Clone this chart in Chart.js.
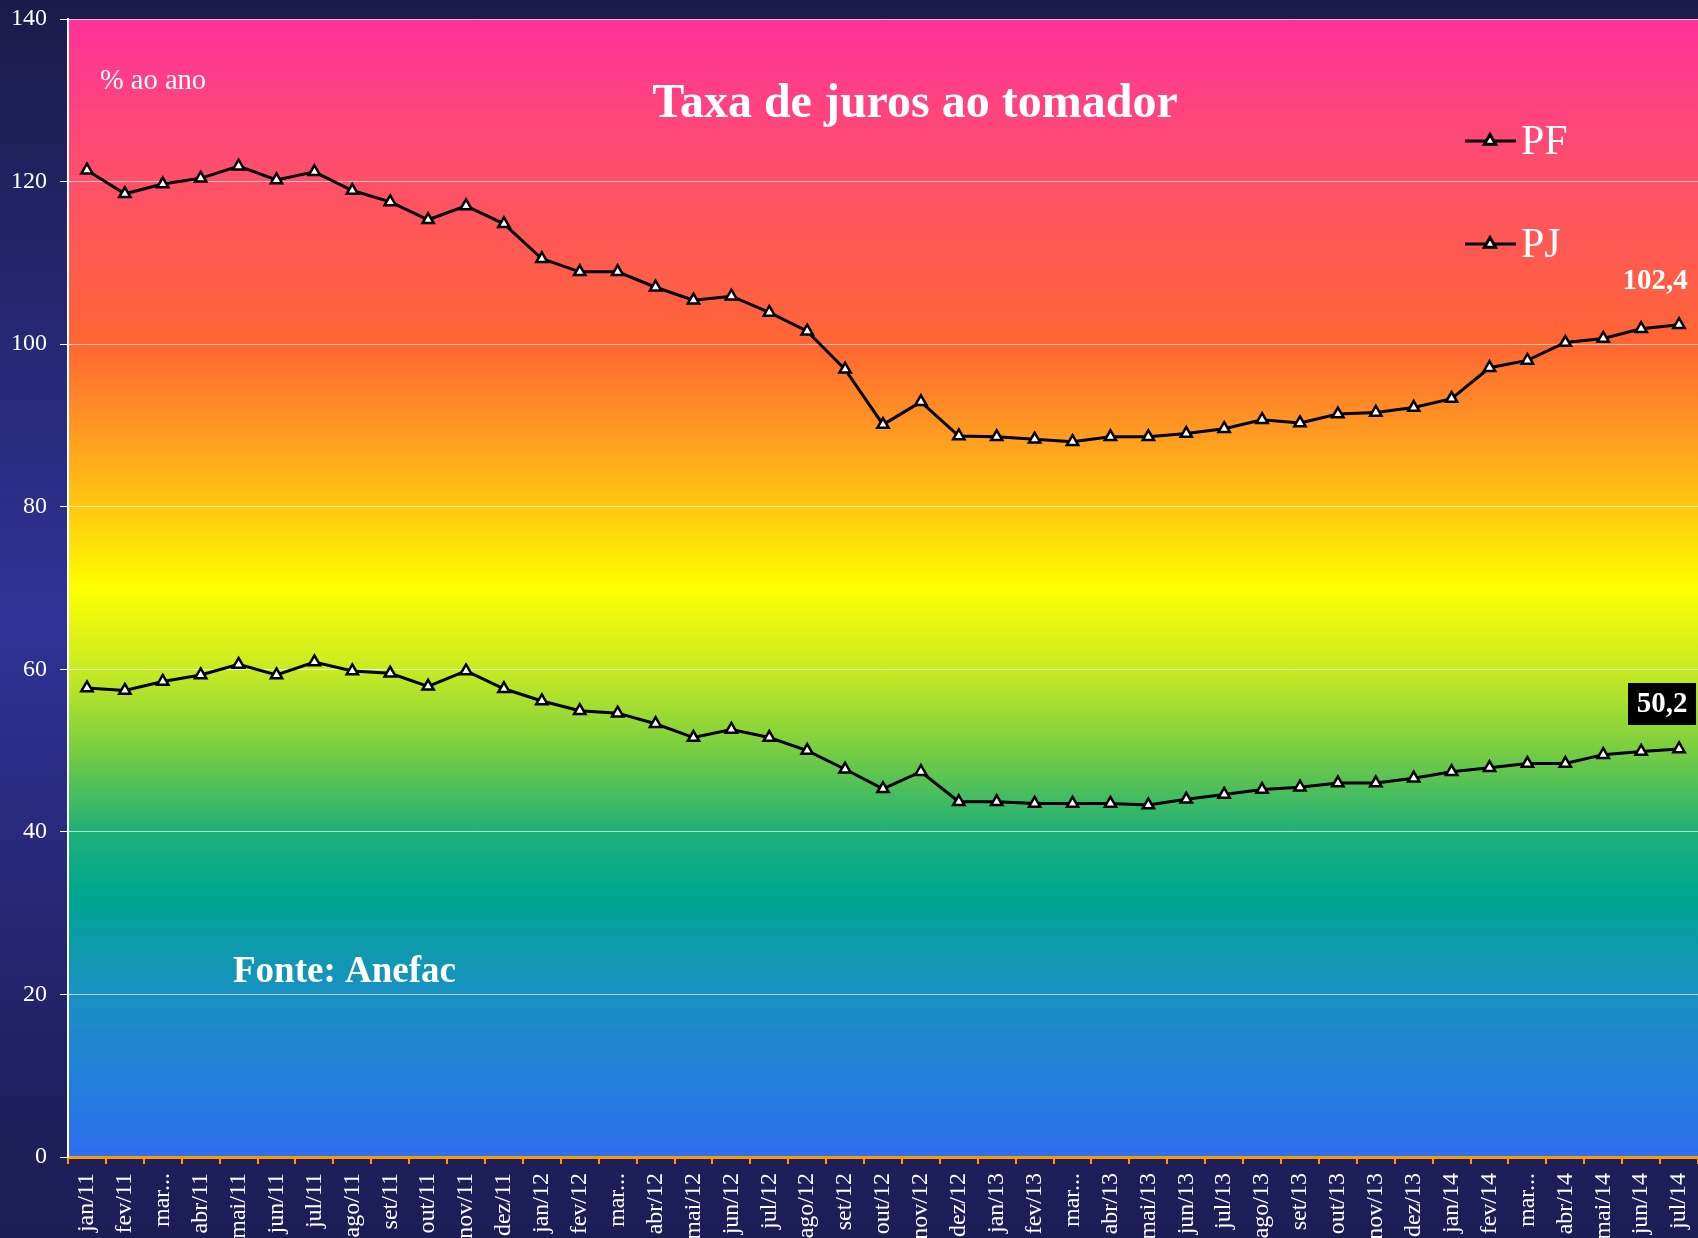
<!DOCTYPE html>
<html>
<head>
<meta charset="utf-8">
<script src="https://cdn.jsdelivr.net/npm/chart.js@4.4.1/dist/chart.umd.min.js"></script>
<style>
  html, body { margin: 0; padding: 0; background: #1c1c50; }
  canvas { display: block; }
</style>
</head>
<body>
<canvas id="chart" width="1698" height="1238"></canvas>
<script>
const months = [
  "jan/11", "fev/11", "mar...", "abr/11", "mai/11", "jun/11", "jul/11", "ago/11", "set/11", "out/11", "nov/11", "dez/11",
  "jan/12", "fev/12", "mar...", "abr/12", "mai/12", "jun/12", "jul/12", "ago/12", "set/12", "out/12", "nov/12", "dez/12",
  "jan/13", "fev/13", "mar...", "abr/13", "mai/13", "jun/13", "jul/13", "ago/13", "set/13", "out/13", "nov/13", "dez/13",
  "jan/14", "fev/14", "mar...", "abr/14", "mai/14", "jun/14", "jul/14"
];

const pf = [
  121.4, 118.5, 119.7, 120.4, 121.9, 120.2, 121.2, 118.9, 117.5, 115.3, 117.0, 114.8,
  110.5, 108.9, 108.9, 107.0, 105.4, 105.9, 103.9, 101.6, 96.9, 90.1, 92.9, 88.7,
  88.6, 88.3, 88.0, 88.6, 88.6, 89.0, 89.6, 90.7, 90.3, 91.4, 91.6, 92.2,
  93.3, 97.1, 98.0, 100.2, 100.7, 101.9, 102.4
];

const pj = [
  57.7, 57.4, 58.5, 59.3, 60.6, 59.3, 60.9, 59.8, 59.5, 57.9, 59.8, 57.6,
  56.1, 54.9, 54.6, 53.3, 51.6, 52.6, 51.6, 50.0, 47.7, 45.3, 47.4, 43.7,
  43.7, 43.5, 43.5, 43.5, 43.3, 44.0, 44.6, 45.2, 45.5, 46.0, 46.0, 46.6,
  47.4, 47.9, 48.4, 48.4, 49.5, 49.9, 50.2
];

const yTicks = [0, 20, 40, 60, 80, 100, 120, 140];

const serif = "'Liberation Serif', 'Times New Roman', serif";

// background colours of the plot, by axis value
const bandStops = [
  [140, "rgb(255,51,153)"],
  [120, "rgb(255,80,105)"],
  [100, "rgb(255,102,51)"],
  [90, "rgb(255,150,35)"],
  [80, "rgb(255,200,15)"],
  [70, "rgb(255,255,0)"],
  [60, "rgb(200,235,35)"],
  [50, "rgb(120,205,65)"],
  [40, "rgb(30,175,120)"],
  [32, "rgb(0,165,145)"],
  [20, "rgb(25,145,195)"],
  [0, "rgb(45,110,240)"]
];

const backgrounds = {
  id: "backgrounds",
  beforeDraw(chart) {
    const ctx = chart.ctx;
    const area = chart.chartArea;
    const y = chart.scales.y;
    ctx.save();
    const outer = ctx.createLinearGradient(0, 0, 0, chart.height);
    outer.addColorStop(0, "#1b1b4a");
    outer.addColorStop(0.5, "#2e3396");
    outer.addColorStop(0.9, "#1f1f5c");
    outer.addColorStop(1, "#1d1d56");
    ctx.fillStyle = outer;
    ctx.fillRect(0, 0, chart.width, chart.height);

    const grad = ctx.createLinearGradient(0, area.top, 0, area.bottom);
    bandStops.forEach(([v, c]) => {
      const f = (y.getPixelForValue(v) - area.top) / (area.bottom - area.top);
      grad.addColorStop(Math.min(1, Math.max(0, f)), c);
    });
    ctx.fillStyle = grad;
    ctx.fillRect(area.left, area.top, area.right - area.left, area.bottom - area.top);
    ctx.restore();
  }
};

const annotations = {
  id: "annotations",
  afterDatasetsDraw(chart) {
    const ctx = chart.ctx;
    ctx.save();
    ctx.fillStyle = "#ffffff";
    ctx.textBaseline = "middle";

    ctx.font = "bold 48px " + serif;
    ctx.textAlign = "center";
    ctx.fillText("Taxa de juros ao tomador", 915, 105);

    ctx.font = "28.5px " + serif;
    ctx.textAlign = "left";
    ctx.fillText("% ao ano", 100, 82);

    ctx.font = "bold 37px " + serif;
    ctx.fillText("Fonte: Anefac", 233, 972);

    // legend
    const legendY = [141, 244];
    chart.data.datasets.forEach((ds, i) => {
      const ly = legendY[i];
      ctx.strokeStyle = ds.borderColor;
      ctx.lineWidth = 3;
      ctx.beginPath();
      ctx.moveTo(1465, ly);
      ctx.lineTo(1516, ly);
      ctx.stroke();
      Chart.helpers.drawPoint(ctx, {
        pointStyle: "triangle",
        radius: 6.5,
        borderWidth: 2.5
      }, 1490, ly);
      ctx.fillStyle = "#ffffff";
      ctx.font = "42px " + serif;
      ctx.textAlign = "left";
      ctx.fillText(ds.label, 1521, ly + 2);
    });

    // value labels on the last points
    ctx.font = "bold 29px " + serif;
    ctx.textAlign = "center";
    ctx.fillStyle = "#ffffff";
    ctx.fillText(pf[pf.length - 1].toFixed(1).replace(".", ","), 1655, 282);

    const pjText = pj[pj.length - 1].toFixed(1).replace(".", ",");
    ctx.fillStyle = "#000000";
    ctx.fillRect(1628, 683, 68, 42);
    ctx.fillStyle = "#ffffff";
    ctx.fillText(pjText, 1662, 705);
    ctx.restore();
  }
};

const pointStyle = {
  borderColor: "#000000",
  borderWidth: 3,
  pointStyle: "triangle",
  pointRadius: 6.5,
  pointBorderWidth: 2.5,
  pointBackgroundColor: "#ffffff",
  pointBorderColor: "#000000",
  tension: 0,
  fill: false
};

new Chart(document.getElementById("chart").getContext("2d"), {
  type: "line",
  data: {
    labels: months,
    datasets: [
      Object.assign({ label: "PF", data: pf }, pointStyle),
      Object.assign({ label: "PJ", data: pj }, pointStyle)
    ]
  },
  options: {
    responsive: false,
    animation: false,
    devicePixelRatio: 1,
    layout: { autoPadding: false, padding: { top: 19, left: 0, right: 0, bottom: 0 } },
    plugins: {
      legend: { display: false },
      tooltip: { enabled: false }
    },
    scales: {
      x: {
        offset: true,
        grid: {
          offset: true,
          drawOnChartArea: false,
          color: "#ff9900",
          tickColor: "#ff9900",
          tickLength: 7,
          lineWidth: 2
        },
        border: { color: "#ff9900", width: 3 },
        ticks: {
          autoSkip: false,
          maxRotation: 90,
          minRotation: 90,
          color: "#ffffff",
          padding: 9,
          font: { family: serif, size: 24 }
        },
        afterFit(scale) {
          scale.height = 81;
          scale.paddingLeft = 0;
          scale.paddingRight = 0;
        }
      },
      y: {
        min: 0,
        max: 140,
        afterBuildTicks(scale) { scale.ticks = yTicks.map(v => ({ value: v })); },
        grid: {
          color: "rgba(255,255,255,0.65)",
          lineWidth: 1,
          borderDash: [3, 3],
          tickBorderDash: [],
          tickColor: "#ffffff",
          tickLength: 8
        },
        border: { color: "#ffffff", width: 2 },
        ticks: {
          color: "#ffffff",
          padding: 13,
          font: { family: serif, size: 24 }
        },
        afterFit(scale) {
          scale.width = 68;
          scale.paddingTop = 0;
          scale.paddingBottom = 0;
        }
      }
    }
  },
  plugins: [backgrounds, annotations]
});
</script>
</body>
</html>
